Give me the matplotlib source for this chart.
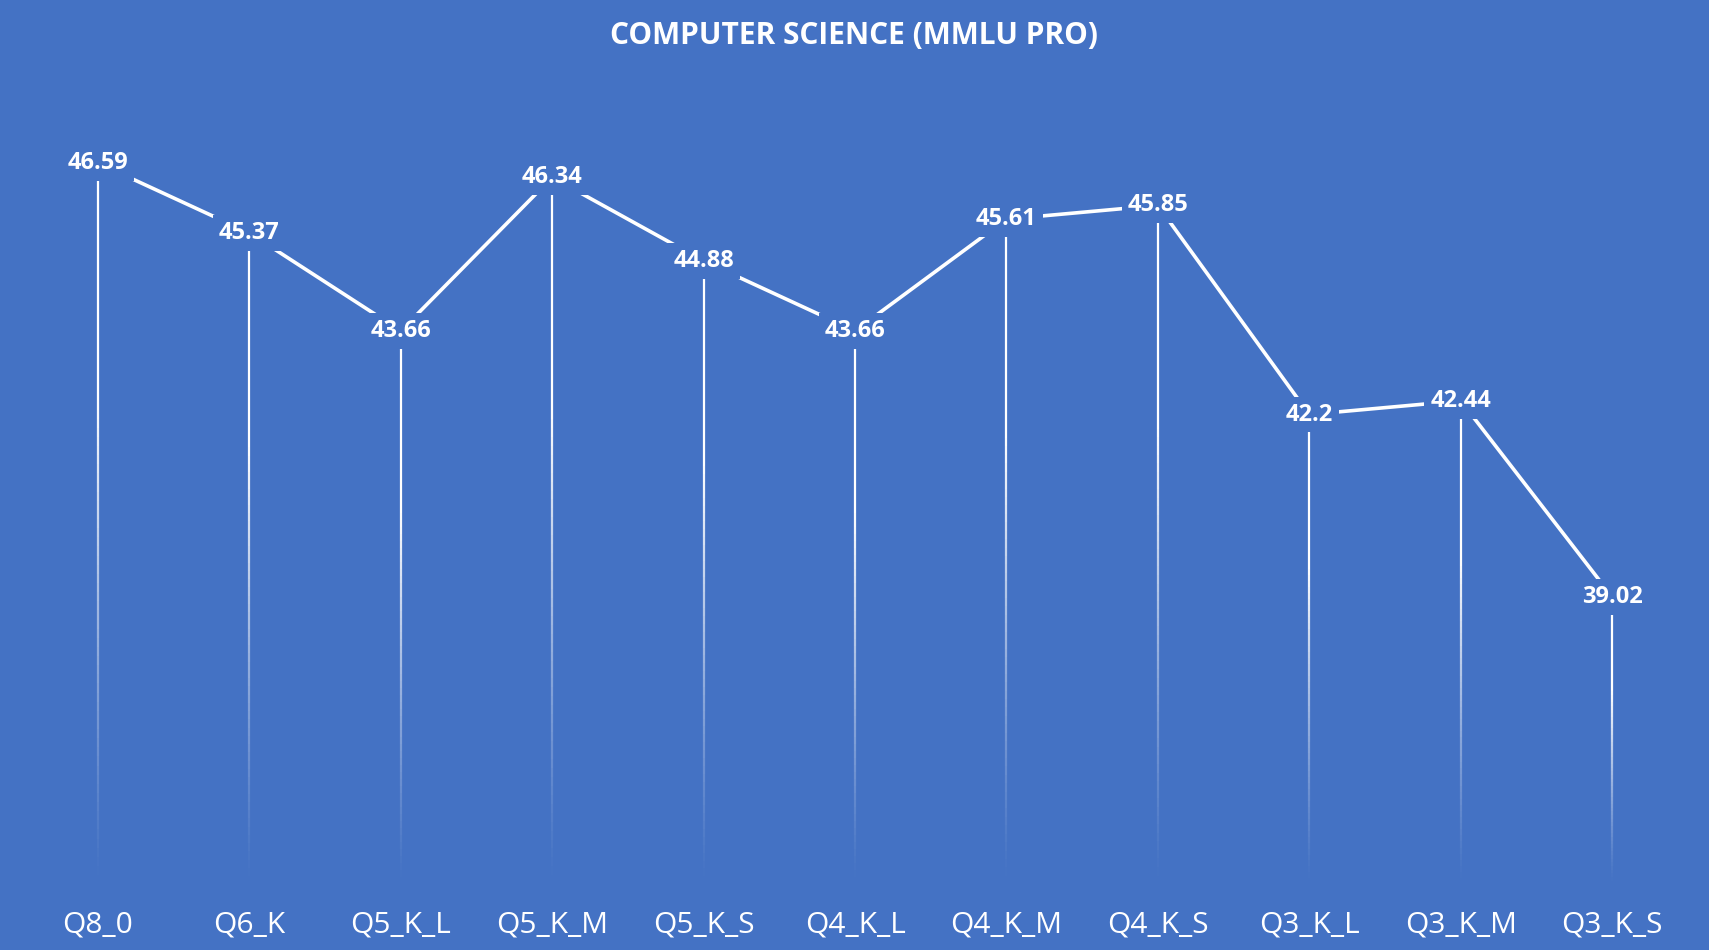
import numpy as np
import matplotlib.pyplot as plt
from matplotlib.collections import LineCollection

# data
models = ['Q8_0', 'Q6_K', 'Q5_K_L', 'Q5_K_M', 'Q5_K_S', 'Q4_K_L',
          'Q4_K_M', 'Q4_K_S', 'Q3_K_L', 'Q3_K_M', 'Q3_K_S']
scores = [46.59, 45.37, 43.66, 46.34, 44.88, 43.66,
          45.61, 45.85, 42.2, 42.44, 39.02]
title = 'COMPUTER SCIENCE (MMLU PRO)'

bg = '#4472C4'
ymin, ymax = 34, 48

plt.rcParams['font.family'] = ['Open Sans', 'DejaVu Sans']

fig = plt.figure(figsize=(17.09, 9.5), dpi=100, facecolor=bg)
ax = fig.add_axes([0, 0.0692, 1, 0.8442])
ax.set_facecolor(bg)
x = np.arange(len(models))

# drop lines with fade-out toward the bottom
for xi, v in zip(x, scores):
    ys = np.linspace(ymin, v, 80)
    segs = [[(xi, ys[k]), (xi, ys[k + 1])] for k in range(len(ys) - 1)]
    frac = (ys[:-1] - ymin) / (v - ymin)
    alphas = np.clip(frac * 1.5, 0, 1) ** 1.2
    cols = [(1, 1, 1, a) for a in alphas]
    ax.add_collection(LineCollection(segs, colors=cols, linewidths=1.6, zorder=1))

ax.plot(x, scores, color='white', lw=2.6, zorder=2)

for xi, v in zip(x, scores):
    ax.text(xi, v, f'{v:g}', ha='center', va='center', color='white',
            fontsize=17, fontweight='bold', zorder=3,
            bbox=dict(boxstyle='square,pad=0.25', fc=bg, ec='none'))

ax.set_xlim(-0.647, 10.64)
ax.set_ylim(ymin, ymax)
ax.set_xticks(x)
ax.set_xticklabels(models, color='white', fontsize=21.5)
ax.tick_params(axis='x', length=0, pad=19)
ax.set_yticks([])
for s in ax.spines.values():
    s.set_visible(False)

fig.suptitle(title, y=0.978, color='white', fontsize=21.5, fontweight='bold')

fig.savefig('out.png', dpi=100, facecolor=bg)
